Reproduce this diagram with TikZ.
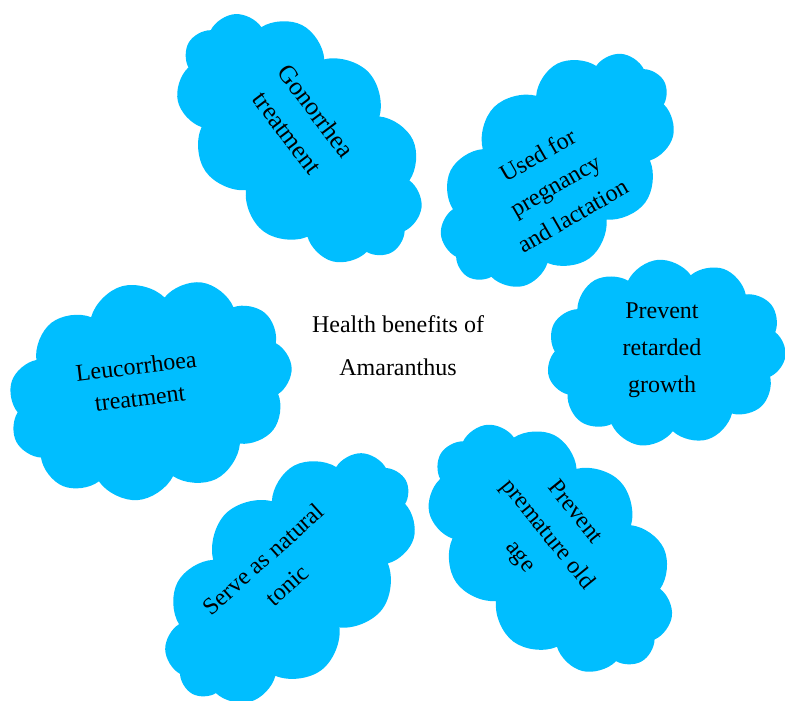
\documentclass[tikz,border=0pt]{standalone}
\usepackage{fontspec}
\setmainfont{Liberation Serif}
\usetikzlibrary{shapes.symbols, positioning}
\definecolor{skyfill}{RGB}{0,190,255}

\begin{document}
\begin{tikzpicture}[x=1pt, y=-1pt, puff/.style={
						cloud, cloud puffs=11, cloud puff arc=120,
						fill=skyfill, draw=none,
						inner sep=0pt,
					}, words/.style={
						align=center, inner sep=0pt,
						font=\fontsize{24}{35}\selectfont,
					},]
					\useasboundingbox (0,0) rectangle (785,701);
					% the six clouds round the middle
					\node[puff, minimum width=295pt, minimum height=190pt, rotate=-46] (gono) at (300,138) {};
					\node[puff, minimum width=280pt, minimum height=178pt, rotate=45] (preg) at (557,170) {};
					\node[puff, minimum width=240pt, minimum height=187pt, rotate=5] (growth) at (666,353) {};
					\node[puff, minimum width=288pt, minimum height=215pt, rotate=15] (leuco) at (150,390) {};
					\node[puff, minimum width=305pt, minimum height=182pt, rotate=45] (tonic) at (290,578) {};
					\node[puff, minimum width=292pt, minimum height=192pt, rotate=-46] (age) at (551,548) {};
					
					\node[words, font=\fontsize{25.5}{36}\selectfont, rotate=-53] (gonotext) at (302,122) {Gonorrhea\\treatment};
					\node[words, rotate=30] (pregtext) at (555,185) {Used for\\pregnancy\\and lactation};
					\node[words, font=\fontsize{24}{37}\selectfont] (growthtext) at (662,350) {Prevent\\retarded\\growth};
					\node[words, font=\fontsize{24}{32}\selectfont, rotate=7] (leucotext) at (138,382) {Leucorrhoea\\treatment};
					\node[words, rotate=42] (tonictext) at (275,572) {Serve as natural\\tonic};
					\node[words, rotate=-51] (agetext) at (547,535) {Prevent\\premature old\\age};
					
					\node[words, font=\fontsize{24}{43}\selectfont] (hub) at (398,346) {Health benefits of\\Amaranthus};
					\end{tikzpicture}
\end{document}
